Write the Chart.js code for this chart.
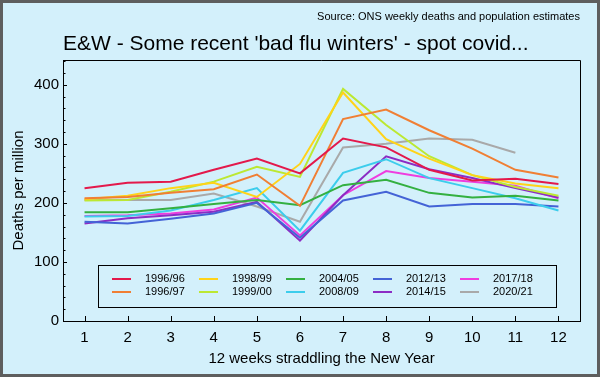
<!DOCTYPE html>
<html>
<head>
<meta charset="utf-8">
<script src="https://cdn.jsdelivr.net/npm/chart.js@4/dist/chart.umd.min.js"></script>
<style>
  html, body { margin: 0; padding: 0; background: #5e5e5e; }
  #frame {
    position: relative; width: 600px; height: 377px; box-sizing: border-box;
    border: 3px solid #5e5e5e; background: #d3f0fb;
    font-family: 'Liberation Sans', Arial, sans-serif;
  }
  #source { position: absolute; right: 17px; top: 7px; font-size: 11px; color: #000; }
  #title { position: absolute; left: 60px; top: 28px; font-size: 21px; color: #000; white-space: nowrap; }
  #wrap { position: absolute; left: 0; top: 0; width: 594px; height: 371px; }
</style>
</head>
<body>
<div id="frame">
  <div id="wrap"><canvas id="chart" width="594" height="371"></canvas></div>
  <div id="source">Source: ONS weekly deaths and population estimates</div>
  <div id="title">E&amp;W - Some recent 'bad flu winters' - spot covid...</div>
</div>
<script>
// weeks straddling the New Year
const weeks = ['1', '2', '3', '4', '5', '6', '7', '8', '9', '10', '11', '12'];

// winters, in legend order (down each column)
const winters = ['1996/96', '1996/97', '1998/99', '1999/00', '2004/05',
                 '2008/09', '2012/13', '2014/15', '2017/18', '2020/21'];

// deaths per million, per week
const w1996_96 = [225, 234, 236, 256, 275, 250, 309, 294, 256, 238, 241, 232];
const w1996_97 = [208, 210, 217, 223, 248, 195, 342, 358, 323, 292, 256, 243];
const w1998_99 = [206, 212, 225, 234, 210, 266, 387, 308, 275, 247, 233, 225];
const w1999_00 = [204, 205, 219, 236, 261, 244, 393, 332, 279, 247, 227, 212];
const w2004_05 = [184, 184, 191, 198, 205, 196, 230, 239, 217, 209, 212, 204];
const w2008_09 = [177, 178, 187, 205, 225, 153, 251, 274, 242, 225, 208, 187];
const w2012_13 = [168, 165, 173, 182, 200, 141, 204, 219, 194, 198, 198, 194];
const w2014_15 = [165, 174, 179, 185, 202, 136, 213, 279, 257, 242, 225, 209];
const w2017_18 = [178, 179, 182, 189, 209, 145, 213, 254, 242, 236, 229, 208];
const w2020_21 = [205, 205, 205, 216, 194, 168, 294, 300, 309, 307, 285, null];

const series = [w1996_96, w1996_97, w1998_99, w1999_00, w2004_05,
                w2008_09, w2012_13, w2014_15, w2017_18, w2020_21];

const lineColors = ['#e3194b', '#f07f34', '#ffd319', '#bce832', '#34b041',
                    '#3ccdec', '#4463d6', '#8c2cc4', '#ef3ddf', '#a9a9a9'];

// y ticks
const yMajor = [0, 100, 200, 300, 400];
const yMax = 442;

const FONT = "'Liberation Sans', Arial, sans-serif";

// frame, inward ticks
const framePlugin = {
  id: 'frame',
  afterDraw(chart) {
    const { ctx, chartArea: a, scales } = chart;
    ctx.save();
    ctx.strokeStyle = '#000';
    ctx.lineWidth = 1;
    ctx.beginPath();
    ctx.moveTo(a.left, a.top + 0.5);
    ctx.lineTo(a.right + 0.5, a.top + 0.5);
    ctx.lineTo(a.right + 0.5, a.bottom);
    ctx.stroke();
    ctx.beginPath();
    scales.x.ticks.forEach((t, i) => {
      const px = Math.round(scales.x.getPixelForTick(i)) + 0.5;
      ctx.moveTo(px, a.bottom);
      ctx.lineTo(px, a.bottom - 5);
    });
    for (let v = 0; v <= yMax; v += 20) {
      const py = Math.round(scales.y.getPixelForValue(v)) + 0.5;
      ctx.moveTo(a.left, py);
      ctx.lineTo(a.left + (v % 100 === 0 ? 4 : 2.5), py);
    }
    ctx.stroke();
    ctx.restore();
  }
};

// boxed legend, 2 rows x 5 columns
const boxLegend = {
  id: 'boxLegend',
  afterDatasetsDraw(chart) {
    const { ctx, chartArea: a } = chart;
    const x0 = a.left + 35, y0 = a.bottom - 56, w = 458, h = 42;
    ctx.save();
    ctx.fillStyle = '#d3f0fb';
    ctx.fillRect(x0, y0, w, h);
    ctx.strokeStyle = '#000';
    ctx.lineWidth = 1;
    ctx.strokeRect(x0 + 0.5, y0 + 0.5, w, h);
    ctx.font = '11px ' + FONT;
    ctx.textBaseline = 'middle';
    chart.data.datasets.forEach((ds, i) => {
      const col = Math.floor(i / 2), row = i % 2;
      const cx = x0 + 14 + col * 87;
      const cy = y0 + 14 + row * 13;
      ctx.strokeStyle = ds.borderColor;
      ctx.lineWidth = 2;
      ctx.beginPath();
      ctx.moveTo(cx, cy);
      ctx.lineTo(cx + 19, cy);
      ctx.stroke();
      ctx.fillStyle = '#000';
      ctx.fillText(ds.label, cx + 33, cy);
    });
    ctx.restore();
  }
};

new Chart(document.getElementById('chart'), {
  type: 'line',
  data: {
    labels: weeks,
    datasets: winters.map((name, i) => ({
      label: name,
      data: series[i],
      borderColor: lineColors[i],
      backgroundColor: lineColors[i],
      borderWidth: 2,
      pointRadius: 0,
      tension: 0,
      spanGaps: false
    }))
  },
  options: {
    responsive: false,
    animation: false,
    layout: { padding: { left: 0, right: 17, top: 57, bottom: 0 } },
    plugins: {
      legend: { display: false },
      title: { display: false },
      tooltip: { enabled: false }
    },
    scales: {
      x: {
        type: 'category',
        offset: true,
        afterFit(s) { s.height = 53; },
        grid: { display: false, drawTicks: false },
        border: { display: true, color: '#000', width: 1 },
        ticks: { color: '#000', font: { family: FONT, size: 15 }, padding: 8, maxRotation: 0 },
        title: {
          display: true, text: '12 weeks straddling the New Year', color: '#000',
          font: { family: FONT, size: 15 }, padding: { top: 0, bottom: 6 }
        }
      },
      y: {
        min: 0,
        max: yMax,
        afterFit(s) { s.width = 60; },
        afterBuildTicks(s) { s.ticks = yMajor.map(v => ({ value: v })); },
        grid: { display: false, drawTicks: false },
        border: { display: true, color: '#000', width: 1 },
        ticks: { color: '#000', font: { family: FONT, size: 15 }, padding: 4 },
        title: {
          display: true, text: 'Deaths per million', color: '#000',
          font: { family: FONT, size: 15 }, padding: { top: 7, bottom: 0 }
        }
      }
    }
  },
  plugins: [framePlugin, boxLegend]
});
</script>
</body>
</html>
